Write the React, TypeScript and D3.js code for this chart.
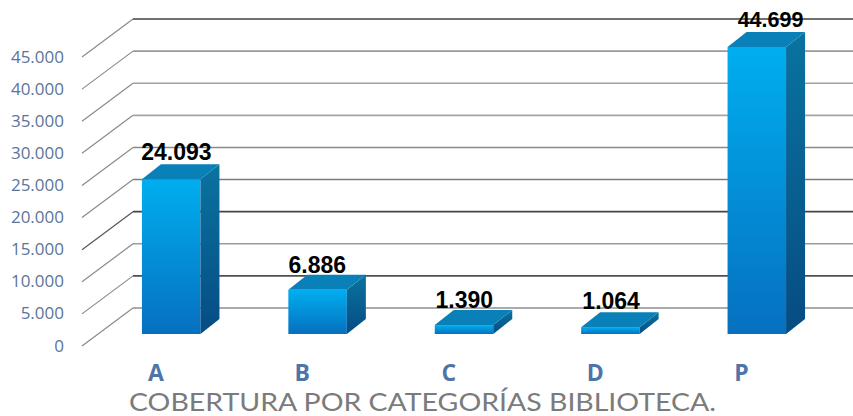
import React from "react";
import * as d3 from "d3";

const categories = ["A", "B", "C", "D", "P"];
const values = [24093, 6886, 1390, 1064, 44699];
const valueLabels = ["24.093", "6.886", "1.390", "1.064", "44.699"];
const ticks = [0, 5000, 10000, 15000, 20000, 25000, 30000, 35000, 40000, 45000];
const title = "COBERTURA POR CATEGORÍAS BIBLIOTECA.";

const W = 853;
const H = 416;
const dx = 19;
const dy = 15;
const barW = 58.5;
const wallDx = 51;
const wallDy = 38;
const frontLeft = 82;
const frontZero = 346;
const frontTop = 57;
const barBase = 334;

const fmt = (v: number) => (v === 0 ? "0" : d3.format(",")(v).replace(",", "."));

export default function App() {
  const y = d3.scaleLinear().domain([0, 45000]).range([frontZero, frontTop]);
  const h = (v: number) => frontZero - y(v);
  const x = d3.scaleBand<string>().domain(categories).range([97.5, 829.5]).paddingInner(0).paddingOuter(0);
  const front = (c: string) => (x(c) as number) + (x.bandwidth() - barW) / 2 + 0.5;
  const lineColors = ["#8f8f8f", "#505050", "#9c9c9c", "#454545", "#7c7c7c", "#8a8a8a", "#a5a5a5", "#a0a0a0", "#9a9a9a", "#404040"];
  const labelDy = [-4, -2, -2, -2.7, -4.5];
  const labelDx = [34.5, 29, 29.5, 30, 43];
  const labelSize = [23, 23, 23, 23, 21.5];

  return (
    <svg
      width={W}
      height={H}
      viewBox={`0 0 ${W} ${H}`}
      style={{ position: "fixed", left: 0, top: 0, background: "#fff" }}
    >
      <defs>
        <linearGradient id="f" x1="0" y1="0" x2="0" y2="1">
          <stop offset="0" stopColor="#00aeef" />
          <stop offset="1" stopColor="#0670bf" />
        </linearGradient>
        <linearGradient id="s" x1="0" y1="0" x2="0" y2="1">
          <stop offset="0" stopColor="#0a739f" />
          <stop offset="1" stopColor="#064c84" />
        </linearGradient>
        <filter id="b" x="-5%" y="-20%" width="110%" height="140%">
          <feGaussianBlur stdDeviation="0.45" />
        </filter>
      </defs>

      <g filter="url(#b)">
        {ticks.map((t, i) => (
          <g key={t} stroke={lineColors[i]} fill="none">
            <line x1={frontLeft} y1={y(t)} x2={frontLeft + wallDx} y2={y(t) - wallDy} strokeWidth={1.2} stroke={i === 3 ? "#555" : "#8a8a8a"} />
            <line x1={frontLeft + wallDx} y1={y(t) - wallDy} x2={W} y2={y(t) - wallDy} strokeWidth={1.6} />
          </g>
        ))}
      </g>

      {ticks.map((t) => (
        <text
          key={t}
          x={64}
          y={y(t) + 5.5}
          textAnchor="end"
          fontFamily="'Open Sans', sans-serif"
          fontSize={17}
          fill="#5a749c"
        >
          {fmt(t)}
        </text>
      ))}

      {categories.map((c, i) => {
        const x0 = front(c);
        const top = barBase - h(values[i]);
        const x1 = x0 + barW;
        return (
          <g key={c}>
            <rect x={x0} y={top} width={barW} height={barBase - top} fill="url(#f)" />
            <path
              d={`M${x1},${top}L${x1 + dx},${top - dy}L${x1 + dx},${barBase - dy}L${x1},${barBase}Z`}
              fill="url(#s)"
            />
            <path
              d={`M${x0},${top}L${x0 + dx},${top - dy}L${x1 + dx},${top - dy}L${x1},${top}Z`}
              fill="#0a80b8"
            />
            <text
              x={x0 + labelDx[i]}
              y={top - dy + labelDy[i]}
              textAnchor="middle"
              fontFamily="'Liberation Sans', Arial, sans-serif"
              fontWeight={700}
              fontSize={labelSize[i]}
              fill="#000"
            >
              {valueLabels[i]}
            </text>
            <text
              x={x0 + 14}
              y={381}
              textAnchor="middle"
              fontFamily="'Open Sans', sans-serif"
              fontWeight={700}
              fontSize={23}
              fill="#4f74a8"
            >
              {c}
            </text>
          </g>
        );
      })}

      <text
        x={129}
        y={410.5}
        fontFamily="Lato, sans-serif"
        fontSize={25}
        fill="#7b7b7b"
        textLength={587}
        lengthAdjust="spacingAndGlyphs"
      >
        {title}
      </text>
    </svg>
  );
}
